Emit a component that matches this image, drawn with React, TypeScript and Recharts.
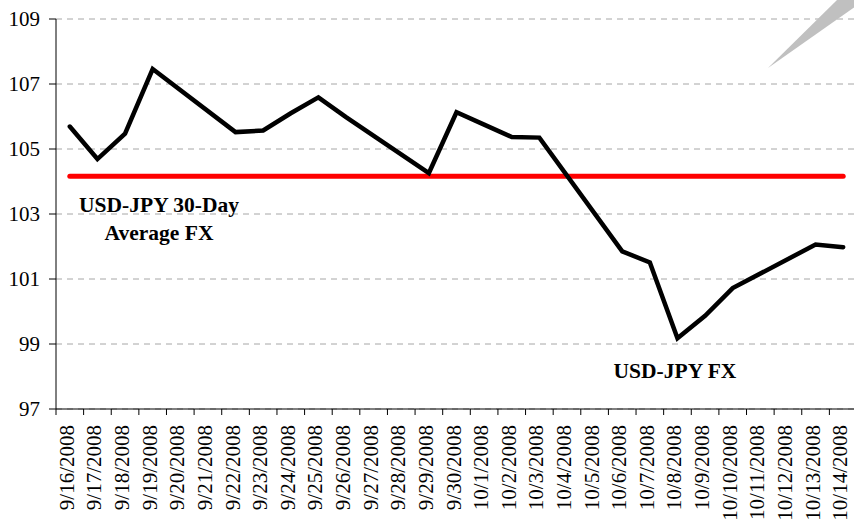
import React from 'react';
import { LineChart, Line, XAxis, YAxis, CartesianGrid, Customized } from 'recharts';

const dates = [
    '9/16/2008', '9/17/2008', '9/18/2008', '9/19/2008', '9/20/2008', '9/21/2008', '9/22/2008',
    '9/23/2008', '9/24/2008', '9/25/2008', '9/26/2008', '9/27/2008', '9/28/2008', '9/29/2008',
    '9/30/2008', '10/1/2008', '10/2/2008', '10/3/2008', '10/4/2008', '10/5/2008', '10/6/2008',
    '10/7/2008', '10/8/2008', '10/9/2008', '10/10/2008', '10/11/2008', '10/12/2008', '10/13/2008',
    '10/14/2008'
];

// weekends have no quote, the line is drawn straight across them
const usdJpyFx = [
    105.69, 104.69, 105.47, 107.46, null, null, 105.52,
    105.57, 106.1, 106.59, 105.98, null, null, 104.26,
    106.13, 105.75, 105.37, 105.35, null, null, 101.85,
    101.51, 99.18, 99.87, 100.72, null, null, 102.06,
    101.98
];

const avg30Day = 104.16;

const yTicks = [97, 99, 101, 103, 105, 107, 109];

const data = dates.map((date, i) => ({ date, fx: usdJpyFx[i], avg: avg30Day }));

const FONT = '"Liberation Serif", "Times New Roman", serif';
const CHART_W = 858;
const PLOT_LEFT = 56;
const PLOT_RIGHT = 1;
const STEP = (CHART_W - PLOT_LEFT - PLOT_RIGHT) / dates.length;

const DateTick = (props: any) => {
    const { x, y, payload, index } = props;
    const left = x - STEP / 2;
    const tx = x + 4;
    const ty = y + 16;
    return (
        <g>
            <line x1={left} y1={y} x2={left} y2={y + 6} stroke="#000" />
            {index === dates.length - 1 && (
                <line x1={x + STEP / 2} y1={y} x2={x + STEP / 2} y2={y + 6} stroke="#000" />
            )}
            <text
                x={tx}
                y={ty}
                transform={`rotate(-90, ${tx}, ${ty})`}
                textAnchor="end"
                fontFamily={FONT}
                fontSize={21}
                fill="#000">
                {payload.value}
            </text>
        </g>
    );
};

const Annotations = () => (
    <g fontFamily={FONT} fontWeight="bold" fontSize={21.5} fill="#000">
        <text x={159} y={212} textAnchor="middle">USD-JPY 30-Day</text>
        <text x={159} y={240} textAnchor="middle">Average FX</text>
        <text x={675} y={378} textAnchor="middle">USD-JPY FX</text>
        <polygon points="768,68 837,0 856,0 856,6" fill="#c0c0c0" />
    </g>
);

const App = () => {
    return (
        <div style={{ position: 'absolute', left: 0, top: 0, width: 854, height: 521, overflow: 'hidden', background: '#fff' }}>
            <LineChart
                width={CHART_W}
                height={521}
                data={data}
                margin={{ top: 19, right: PLOT_RIGHT, left: 0, bottom: 0 }}>
                <CartesianGrid vertical={false} stroke="#a6a6a6" strokeDasharray="6 5" />
                <XAxis
                    dataKey="date"
                    interval={0}
                    height={112}
                    padding={{ left: STEP / 2, right: STEP / 2 }}
                    tickSize={0}
                    tickMargin={0}
                    axisLine={{ stroke: '#000' }}
                    tick={<DateTick />} />
                <YAxis
                    width={PLOT_LEFT}
                    domain={[97, 109]}
                    ticks={yTicks}
                    tickSize={7}
                    tickMargin={9}
                    axisLine={{ stroke: '#000' }}
                    tickLine={{ stroke: '#000' }}
                    tick={{ fill: '#000', fontSize: 21, fontFamily: FONT }} />
                <Line
                    type="linear"
                    dataKey="avg"
                    stroke="#ff0000"
                    strokeWidth={5}
                    strokeLinecap="round"
                    dot={false}
                    activeDot={false}
                    isAnimationActive={false} />
                <Line
                    type="linear"
                    dataKey="fx"
                    stroke="#000"
                    strokeWidth={4.5}
                    strokeLinecap="round"
                    connectNulls
                    dot={false}
                    activeDot={false}
                    isAnimationActive={false} />
                <Customized component={<Annotations />} />
            </LineChart>
        </div>
    );
};

export default App;
